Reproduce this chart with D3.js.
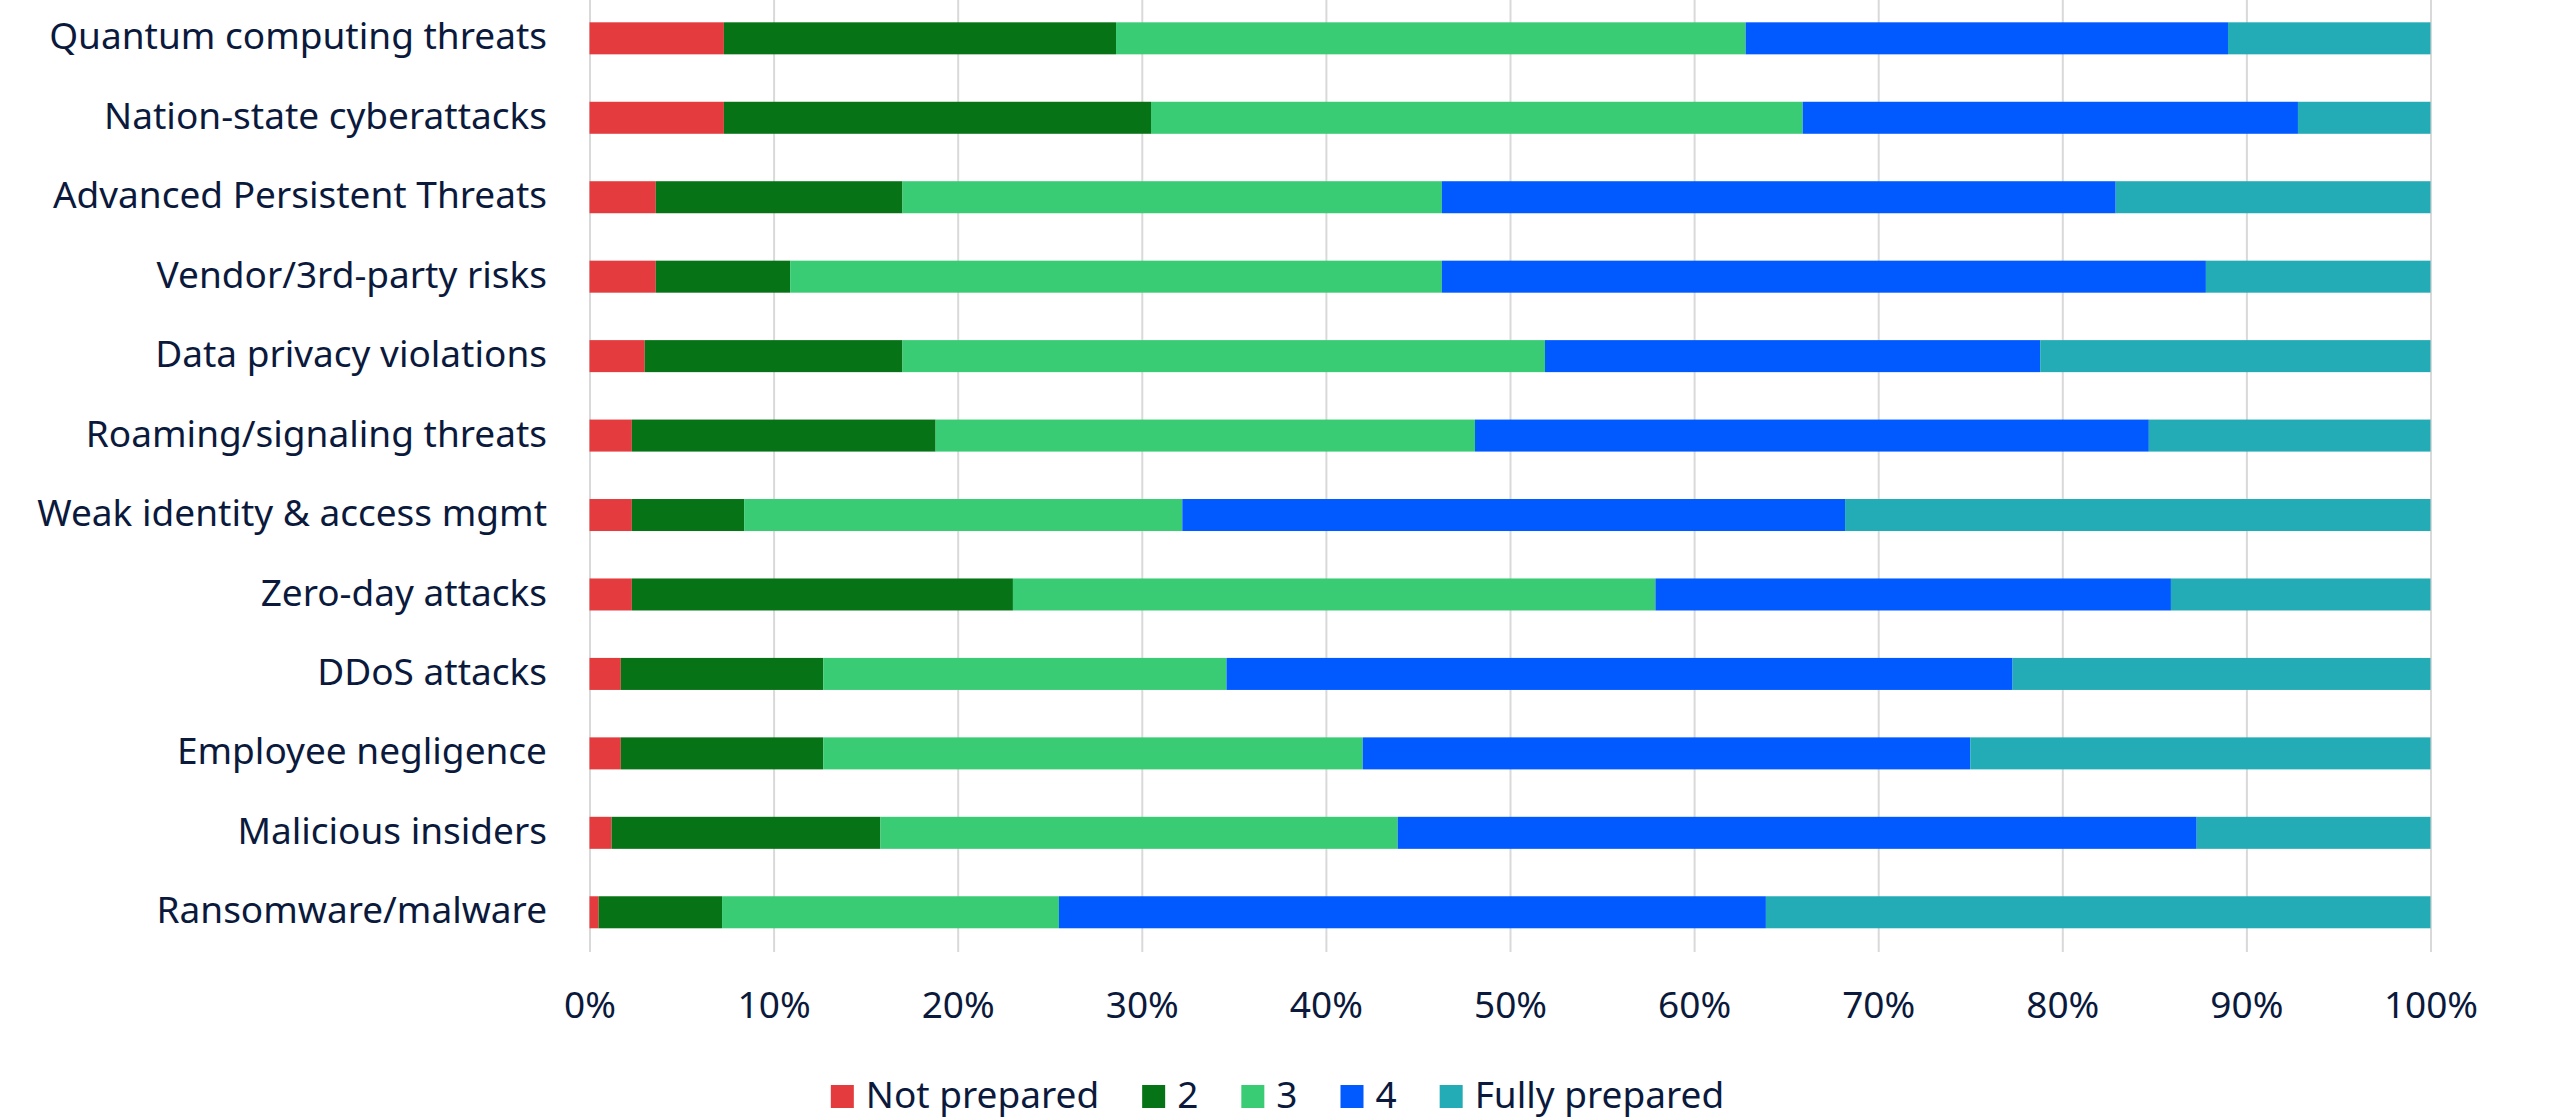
<!DOCTYPE html>
<html>
<head>
<meta charset="utf-8">
<script src="https://cdn.jsdelivr.net/npm/d3@7"></script>
<style>
  html, body { margin: 0; padding: 0; background: #ffffff; }
  svg { display: block; }
  text { font-family: "Noto Sans", "Open Sans", sans-serif; fill: #0b1a3c; }
</style>
</head>
<body>
<svg id="chart" width="2551" height="1120"></svg>
<script>
// Threat categories, top to bottom
const categories = [
  "Quantum computing threats",
  "Nation-state cyberattacks",
  "Advanced Persistent Threats",
  "Vendor/3rd-party risks",
  "Data privacy violations",
  "Roaming/signaling threats",
  "Weak identity & access mgmt",
  "Zero-day attacks",
  "DDoS attacks",
  "Employee negligence",
  "Malicious insiders",
  "Ransomware/malware"
];

// Preparedness levels (legend order)
const levels = ["Not prepared", "2", "3", "4", "Fully prepared"];
const levelColors = ["#e43c3e", "#067416", "#39cc74", "#005aff", "#23abb6"];

// Share of respondents (%) per level, one value per category
const notPrepared   = [7.3, 7.3, 3.6, 3.6, 3.0, 2.3, 2.3, 2.3, 1.7, 1.7, 1.2, 0.5];
const level2        = [21.3, 23.2, 13.4, 7.3, 14.0, 16.5, 6.1, 20.7, 11.0, 11.0, 14.6, 6.7];
const level3        = [34.2, 35.4, 29.3, 35.4, 34.9, 29.3, 23.8, 34.9, 21.9, 29.3, 28.1, 18.3];
const level4        = [26.2, 26.9, 36.6, 41.5, 26.9, 36.6, 36.0, 28.0, 42.7, 33.0, 43.4, 38.4];
const fullyPrepared = [11.0, 7.2, 17.1, 12.2, 21.2, 15.3, 31.8, 14.1, 22.7, 25.0, 12.7, 36.1];

const xTicks = [0, 10, 20, 30, 40, 50, 60, 70, 80, 90, 100];

const seriesValues = [notPrepared, level2, level3, level4, fullyPrepared];
const rows = categories.map((c, i) => {
  const r = { category: c };
  levels.forEach((l, j) => { r[l] = seriesValues[j][i]; });
  return r;
});

const svg = d3.select("#chart");
const plotTop = -1.4, plotBottom = 952;
const x = d3.scaleLinear().domain([0, 100]).range([589.5, 2430.5]);
const y = d3.scaleBand().domain(categories).range([plotTop, plotBottom])
  .paddingInner(0.597).paddingOuter(0.2985);
const color = d3.scaleOrdinal().domain(levels).range(levelColors);

// Vertical gridlines and percentage labels
const xAxis = svg.append("g")
  .attr("transform", `translate(0,${plotBottom})`)
  .call(d3.axisBottom(x).tickValues(xTicks).tickSize(-plotBottom).tickFormat(d => d + "%"));
xAxis.select(".domain").remove();
xAxis.selectAll(".tick line").attr("stroke", "#d9d9d9").attr("stroke-width", 2);
xAxis.selectAll(".tick text")
  .attr("y", 66).attr("dy", 0)
  .style("font-size", "37px").style("fill", "#0b1a3c")
  .attr("font-family", null);

// Stacked bars
const stack = d3.stack().keys(levels)(rows);
svg.append("g").selectAll("g")
  .data(stack)
  .join("g")
  .attr("fill", d => color(d.key))
  .selectAll("rect")
  .data(d => d)
  .join("rect")
  .attr("x", d => x(d[0]))
  .attr("width", d => x(d[1]) - x(d[0]))
  .attr("y", d => y(d.data.category))
  .attr("height", y.bandwidth());

// Category labels
svg.append("g").selectAll("text")
  .data(categories)
  .join("text")
  .attr("x", 547)
  .attr("y", d => y(d) + y.bandwidth() / 2)
  .attr("dy", "0.3em")
  .attr("text-anchor", "end")
  .style("font-size", "37px")
  .text(d => d);

// Legend, centred under the chart
const legend = svg.append("g");
const items = legend.selectAll("g").data(levels).join("g");
items.append("rect")
  .attr("y", 1085).attr("width", 23).attr("height", 23)
  .attr("fill", d => color(d));
items.append("text")
  .attr("x", 35).attr("y", 1108)
  .style("font-size", "37px")
  .text(d => d);
let cursor = 0;
items.each(function () {
  const w = this.getBBox().width;
  d3.select(this).attr("transform", `translate(${cursor},0)`);
  cursor += w + 43;
});
const legendWidth = cursor - 43;
legend.attr("transform", `translate(${(2551 - legendWidth) / 2 + 2},0)`);
</script>
</body>
</html>
